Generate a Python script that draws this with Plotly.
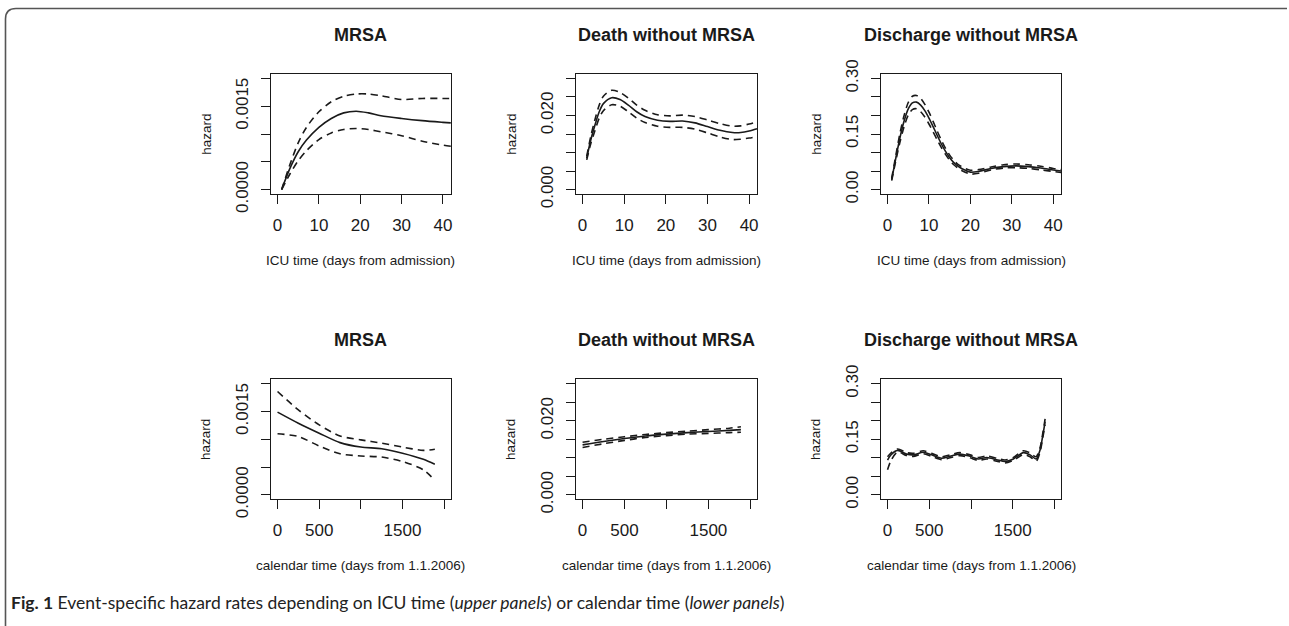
import plotly.graph_objects as go

# ---------------- data ----------------
panel_titles = ["MRSA", "Death without MRSA", "Discharge without MRSA"]
xlabel_top = "ICU time (days from admission)"
xlabel_bottom = "calendar time (days from 1.1.2006)"
ylabel = "hazard"
caption_bold = "Fig. 1"
caption_text = " Event-specific hazard rates depending on ICU time (<i>upper panels</i>) or calendar time (<i>lower panels</i>)"

# Upper panels: ICU time
mrsa_icu_x = [1, 3, 5, 7, 10, 13, 16, 19, 22, 25, 30, 35, 40, 41.9]
mrsa_icu_est = [0.0, 0.00038, 0.00068, 0.00089, 0.00112, 0.00128, 0.00138, 0.00141, 0.00138, 0.00133, 0.00128, 0.00124, 0.00121, 0.00120]
mrsa_icu_hi = [0.0, 0.00045, 0.00084, 0.00112, 0.00140, 0.00158, 0.00168, 0.00172, 0.00172, 0.00169, 0.00162, 0.00164, 0.00164, 0.00164]
mrsa_icu_lo = [0.0, 0.00028, 0.00052, 0.00070, 0.00090, 0.00102, 0.00108, 0.00110, 0.00108, 0.00104, 0.00097, 0.00087, 0.00080, 0.00078]

death_icu_x = [1, 2, 3, 4, 5, 7, 9, 11, 13, 15, 18, 21, 24, 27, 30, 33, 36, 38, 40, 41.9]
death_icu_est = [0.0085, 0.0135, 0.0175, 0.0210, 0.0232, 0.0248, 0.0243, 0.0228, 0.0210, 0.0197, 0.0187, 0.0184, 0.0185, 0.0180, 0.0170, 0.0160, 0.0154, 0.0154, 0.0158, 0.0164]
death_icu_hi = [0.0090, 0.0145, 0.0190, 0.0228, 0.0252, 0.0268, 0.0262, 0.0247, 0.0228, 0.0214, 0.0202, 0.0199, 0.0201, 0.0197, 0.0188, 0.0178, 0.0171, 0.0172, 0.0177, 0.0183]
death_icu_lo = [0.0080, 0.0125, 0.0160, 0.0193, 0.0213, 0.0229, 0.0225, 0.0210, 0.0193, 0.0181, 0.0171, 0.0168, 0.0168, 0.0163, 0.0153, 0.0142, 0.0135, 0.0136, 0.0139, 0.0143]

disch_icu_x = [1, 2, 3, 4, 5, 6, 7, 8, 9, 10, 11, 12, 13, 14, 15, 16, 17, 18, 20, 22, 25, 28, 31, 34, 37, 40, 41.9]
disch_icu_est = [0.027, 0.085, 0.140, 0.185, 0.218, 0.234, 0.236, 0.228, 0.213, 0.193, 0.170, 0.146, 0.123, 0.103, 0.086, 0.073, 0.063, 0.056, 0.047, 0.049, 0.057, 0.062, 0.064, 0.062, 0.058, 0.053, 0.050]
disch_icu_hi = [0.030, 0.092, 0.152, 0.200, 0.235, 0.252, 0.254, 0.246, 0.230, 0.209, 0.184, 0.158, 0.133, 0.111, 0.093, 0.079, 0.068, 0.061, 0.052, 0.054, 0.061, 0.067, 0.069, 0.067, 0.063, 0.057, 0.054]
disch_icu_lo = [0.024, 0.078, 0.128, 0.170, 0.201, 0.216, 0.218, 0.210, 0.196, 0.177, 0.156, 0.134, 0.113, 0.095, 0.079, 0.067, 0.058, 0.051, 0.042, 0.044, 0.053, 0.058, 0.059, 0.057, 0.053, 0.049, 0.046]

# Lower panels: calendar time
mrsa_cal_x = [0, 250, 500, 750, 1000, 1250, 1500, 1750, 1888]
mrsa_cal_est = [0.00149, 0.00129, 0.00111, 0.00094, 0.00086, 0.00083, 0.00075, 0.00064, 0.00055]
mrsa_cal_hi = [0.00186, 0.00153, 0.00126, 0.00106, 0.00099, 0.00093, 0.00086, 0.00080, 0.00082]
mrsa_cal_lo = [0.00110, 0.00105, 0.00088, 0.00074, 0.00070, 0.00068, 0.00060, 0.00045, 0.00026]

death_cal_x = [0, 250, 500, 750, 1000, 1250, 1500, 1750, 1888]
death_cal_est = [0.0135, 0.0144, 0.0152, 0.0159, 0.0164, 0.0168, 0.0171, 0.0174, 0.0176]
death_cal_hi = [0.0142, 0.0150, 0.0157, 0.0163, 0.0168, 0.0172, 0.0176, 0.0180, 0.0184]
death_cal_lo = [0.0128, 0.0138, 0.0147, 0.0155, 0.0160, 0.0164, 0.0166, 0.0168, 0.0169]

disch_cal_x = [0, 40, 120, 228, 308, 428, 528, 648, 748, 868, 988, 1088, 1188, 1308, 1408, 1508, 1628, 1708, 1780, 1828, 1860, 1888]
disch_cal_est = [0.094, 0.108, 0.120, 0.110, 0.108, 0.115, 0.108, 0.099, 0.104, 0.110, 0.104, 0.097, 0.101, 0.095, 0.090, 0.097, 0.114, 0.108, 0.097, 0.122, 0.160, 0.198]
disch_cal_hi = [0.103, 0.113, 0.124, 0.114, 0.112, 0.119, 0.112, 0.103, 0.108, 0.114, 0.108, 0.101, 0.105, 0.099, 0.094, 0.101, 0.119, 0.113, 0.103, 0.128, 0.166, 0.205]
disch_cal_lo = [0.068, 0.092, 0.116, 0.106, 0.104, 0.111, 0.104, 0.095, 0.100, 0.106, 0.100, 0.093, 0.097, 0.091, 0.086, 0.093, 0.109, 0.103, 0.091, 0.116, 0.154, 0.190]

top_xticks = [0, 10, 20, 30, 40]
top_xticktext = ["0", "10", "20", "30", "40"]
bot_xticks = [0, 500, 1000, 1500, 2000]
bot_xticktext = ["0", "500", "", "1500", ""]
mrsa_yticks = [0, 0.0005, 0.0010, 0.0015, 0.0020]
mrsa_yticktext = ["0.0000", "", "", "0.0015", ""]
death_yticks = [0, 0.005, 0.010, 0.015, 0.020, 0.025, 0.030]
death_yticktext = ["0.000", "", "", "", "0.020", "", ""]
disch_yticks = [0, 0.05, 0.10, 0.15, 0.20, 0.25, 0.30]
disch_yticktext = ["0.00", "", "", "0.15", "", "", "0.30"]

# ---------------- layout geometry (pixels) ----------------
W, H = 1289, 626
cols = [(270.7, 451.0), (575.7, 757.2), (880.7, 1061.3)]
rows = [(74.0, 194.0), (379.3, 499.3)]

def px(x):
    return x / W

def py(y):
    return 1 - y / H

panels = [
    (mrsa_icu_x, mrsa_icu_est, mrsa_icu_hi, mrsa_icu_lo, 0, 0),
    (death_icu_x, death_icu_est, death_icu_hi, death_icu_lo, 0, 1),
    (disch_icu_x, disch_icu_est, disch_icu_hi, disch_icu_lo, 0, 2),
    (mrsa_cal_x, mrsa_cal_est, mrsa_cal_hi, mrsa_cal_lo, 1, 0),
    (death_cal_x, death_cal_est, death_cal_hi, death_cal_lo, 1, 1),
    (disch_cal_x, disch_cal_est, disch_cal_hi, disch_cal_lo, 1, 2),
]
yinfo = [
    (mrsa_yticks, mrsa_yticktext, [-0.00008, 0.00208]),
    (death_yticks, death_yticktext, [-0.0012, 0.0312]),
    (disch_yticks, disch_yticktext, [-0.012, 0.312]),
]

FONT = "Liberation Sans, Arial, Helvetica, sans-serif"
INK = "#1a1a1a"

fig = go.Figure()
layout = dict(
    width=W, height=H, autosize=False,
    margin=dict(l=0, r=0, t=0, b=0, pad=0, autoexpand=False),
    paper_bgcolor="white", plot_bgcolor="white",
    showlegend=False,
    font=dict(family=FONT, color=INK),
)
annotations = []

for i, (xs, est, hi, lo, r, c) in enumerate(panels, start=1):
    xa = "x" if i == 1 else f"x{i}"
    ya = "y" if i == 1 else f"y{i}"
    for vals, dash in ((hi, "7px,5px"), (lo, "7px,5px"), (est, "solid")):
        fig.add_trace(go.Scatter(
            x=xs, y=vals, mode="lines", xaxis=xa, yaxis=ya,
            line=dict(color=INK, width=1.6, dash=dash, shape="spline", smoothing=0.8),
            hoverinfo="skip",
        ))
    x0, x1 = cols[c]
    y0, y1 = rows[r]
    if r == 0:
        xt, xtt, xr, xl = top_xticks, top_xticktext, [-1.65, 41.95], xlabel_top
    else:
        xt, xtt, xr, xl = bot_xticks, bot_xticktext, [-82, 2082], xlabel_bottom
    yt, ytt, yr = yinfo[c]
    axcommon = dict(
        showline=True, mirror=True, linecolor=INK, linewidth=1.3,
        ticks="outside", ticklen=9, tickwidth=1.3, tickcolor=INK,
        showgrid=False, zeroline=False, fixedrange=True, automargin=False,
        tickfont=dict(family=FONT, size=17, color=INK),
    )
    layout["xaxis" if i == 1 else f"xaxis{i}"] = dict(
        axcommon, domain=[px(x0), px(x1)], anchor=ya, range=xr,
        tickmode="array", tickvals=xt, ticktext=xtt, ticklabelstandoff=6,
    )
    layout["yaxis" if i == 1 else f"yaxis{i}"] = dict(
        axcommon, domain=[py(y1), py(y0)], anchor=xa, range=yr,
        tickmode="array", tickvals=yt, ticktext=ytt, tickangle=-90,
        ticklabelstandoff=6,
    )
    # panel title
    annotations.append(dict(
        x=px((x0 + x1) / 2), y=py(y0 - 39.5), xref="paper", yref="paper",
        text=f"<b>{panel_titles[c]}</b>", showarrow=False,
        xanchor="center", yanchor="middle",
        font=dict(family=FONT, size=18, color=INK),
    ))
    # x label
    annotations.append(dict(
        x=px((x0 + x1) / 2), y=py(y1 + 66), xref="paper", yref="paper",
        text=xl, showarrow=False, xanchor="center", yanchor="middle",
        font=dict(family=FONT, size=13.5, color=INK),
    ))
    # y label
    annotations.append(dict(
        x=px(x0 - 65), y=py((y0 + y1) / 2), xref="paper", yref="paper",
        text=ylabel, showarrow=False, xanchor="center", yanchor="middle",
        textangle=-90, font=dict(family=FONT, size=13.5, color=INK),
    ))

# caption
annotations.append(dict(
    x=px(9), y=py(602), xref="paper", yref="paper",
    text=f"<b>{caption_bold}</b>{caption_text}", showarrow=False,
    xanchor="left", yanchor="middle",
    font=dict(family="Lato, Liberation Sans, sans-serif", size=17.5, color="#222"),
))
layout["annotations"] = annotations

# rounded figure frame (left and top edges)
layout["shapes"] = [
    dict(type="path", xref="paper", yref="paper",
         path=f"M {px(5.5)},{py(626)} L {px(5.5)},{py(19)} Q {px(5.5)},{py(8.5)} {px(16)},{py(8.5)} L {px(1287)},{py(8.5)}",
         line=dict(color="#555", width=1.6)),
]

fig.update_layout(**layout)
fig.write_html(
    "out.html",
    config={"displayModeBar": False},
    post_script="document.body.style.margin='0px';document.body.style.overflow='hidden';",
)
